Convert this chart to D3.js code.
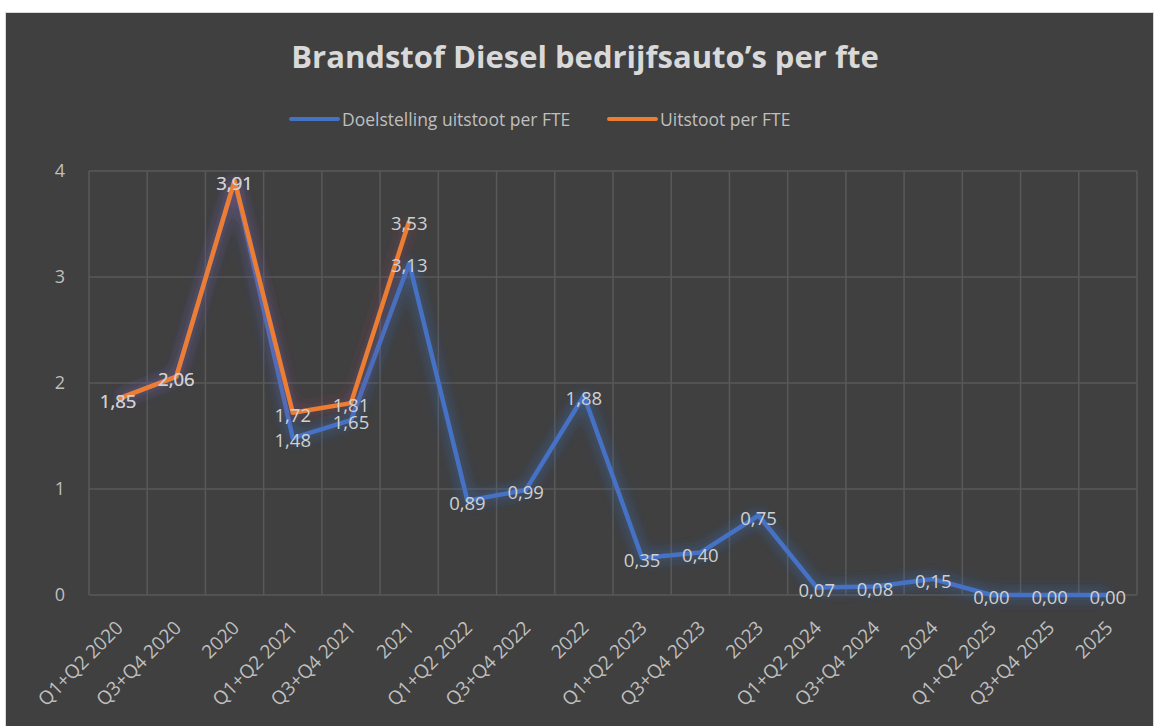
<!DOCTYPE html>
<html>
<head>
<meta charset="utf-8">
<script src="https://cdn.jsdelivr.net/npm/d3@7"></script>
<style>
  body { margin: 0; background: #fff; }
  svg text { font-family: "Open Sans", "Noto Sans", sans-serif; }
</style>
</head>
<body>
<div id="chart"></div>
<script>
// categories and values
var categories = ["Q1+Q2 2020", "Q3+Q4 2020", "2020", "Q1+Q2 2021", "Q3+Q4 2021", "2021",
  "Q1+Q2 2022", "Q3+Q4 2022", "2022", "Q1+Q2 2023", "Q3+Q4 2023", "2023",
  "Q1+Q2 2024", "Q3+Q4 2024", "2024", "Q1+Q2 2025", "Q3+Q4 2025", "2025"];
var doelstelling = [1.85, 2.06, 3.91, 1.48, 1.65, 3.13, 0.89, 0.99, 1.88, 0.35, 0.40, 0.75,
  0.07, 0.08, 0.15, 0.00, 0.00, 0.00];
var uitstoot = [1.85, 2.06, 3.91, 1.72, 1.81, 3.53];
var yTicks = [0, 1, 2, 3, 4];

var svgWidth = 1155, svgHeight = 726;
var margin = {top: 171, left: 89, right: 18, bottom: 131};
var width = svgWidth - margin.left - margin.right;
var height = svgHeight - margin.top - margin.bottom;

var svg = d3.select("#chart").append("svg")
    .attr("width", svgWidth)
    .attr("height", svgHeight);

// glow filters
var defs = svg.append("defs");
[["glowBlue", "#4472C4", 0.5], ["glowOrange", "#9a4f6a", 0.4]].forEach(function(f) {
  var flt = defs.append("filter").attr("id", f[0])
      .attr("x", "-20%").attr("y", "-20%").attr("width", "140%").attr("height", "140%");
  flt.append("feGaussianBlur").attr("in", "SourceAlpha").attr("stdDeviation", 7).attr("result", "b");
  flt.append("feFlood").attr("flood-color", f[1]).attr("flood-opacity", f[2]);
  flt.append("feComposite").attr("in2", "b").attr("operator", "in").attr("result", "g");
  var m = flt.append("feMerge");
  m.append("feMergeNode").attr("in", "g");
  m.append("feMergeNode").attr("in", "g");
  m.append("feMergeNode").attr("in", "SourceGraphic");
});

// chart background + border
svg.append("rect")
    .attr("x", 5.5).attr("y", 12.5)
    .attr("width", 1148).attr("height", 720)
    .attr("fill", "#404040")
    .attr("stroke", "#d9d9d9");

svg.append("text")
    .attr("x", 585).attr("y", 68)
    .attr("text-anchor", "middle")
    .style("font-size", "31px")
    .style("font-weight", "bold")
    .style("fill", "#d9d9d9")
    .text("Brandstof Diesel bedrijfsauto\u2019s per fte");

// legend
var legend = [{name: "Doelstelling uitstoot per FTE", color: "#4472C4", x: 291},
              {name: "Uitstoot per FTE", color: "#ED7D31", x: 609}];
legend.forEach(function(l) {
  svg.append("line")
      .attr("x1", l.x).attr("x2", l.x + 47)
      .attr("y1", 119).attr("y2", 119)
      .attr("stroke", l.color).attr("stroke-width", 4).attr("stroke-linecap", "round");
  svg.append("text")
      .attr("x", l.x + 51).attr("y", 126)
      .style("font-size", "17.5px")
      .style("fill", "#bfbfbf")
      .text(l.name);
});

var chartGroup = svg.append("g")
    .attr("transform", `translate(${margin.left}, ${margin.top})`);

var xScale = d3.scaleBand().domain(categories).range([0, width]);
var yScale = d3.scaleLinear().domain([0, 4]).range([height, 0]);

// gridlines
chartGroup.selectAll(".hgrid")
    .data(yTicks)
    .enter().append("line")
    .attr("x1", 0).attr("x2", width)
    .attr("y1", d => yScale(d)).attr("y2", d => yScale(d))
    .attr("stroke", "#595959").attr("stroke-width", 1.5);
chartGroup.selectAll(".vgrid")
    .data(categories.concat([null]))
    .enter().append("line")
    .attr("x1", (d, i) => i * xScale.bandwidth())
    .attr("x2", (d, i) => i * xScale.bandwidth())
    .attr("y1", 0).attr("y2", height)
    .attr("stroke", "#595959").attr("stroke-width", 1.5);

// y axis labels
var yAxis = d3.axisLeft(yScale).tickValues(yTicks).tickFormat(d3.format("d")).tickSize(0).tickPadding(24);
var yg = chartGroup.append("g").call(yAxis);
yg.select(".domain").remove();
yg.selectAll("text")
    .style("font-size", "18px")
    .style("fill", "#bfbfbf")
    .attr("font-family", null);

// x axis labels
var xAxis = d3.axisBottom(xScale).tickSize(0);
var xg = chartGroup.append("g").attr("transform", `translate(0, ${height})`).call(xAxis);
xg.select(".domain").remove();
xg.selectAll("text")
    .style("font-size", "19px")
    .style("fill", "#bfbfbf")
    .attr("font-family", null)
    .attr("text-anchor", "end")
    .attr("dy", null)
    .attr("y", 0)
    .attr("transform", "translate(6, 34) rotate(-45)");

var line = d3.line()
    .x((d, i) => xScale(categories[i]) + xScale.bandwidth() / 2)
    .y(d => yScale(d));

chartGroup.append("path")
    .datum(doelstelling)
    .attr("d", line)
    .attr("fill", "none")
    .attr("stroke", "#4472C4")
    .attr("stroke-width", 4.5)
    .attr("stroke-linejoin", "round")
    .attr("filter", "url(#glowBlue)");

chartGroup.append("path")
    .datum(uitstoot)
    .attr("d", line)
    .attr("fill", "none")
    .attr("stroke", "#ED7D31")
    .attr("stroke-width", 4.5)
    .attr("stroke-linejoin", "round")
    .attr("filter", "url(#glowOrange)");

function fmt(v) { return v.toFixed(2).replace(".", ","); }

[doelstelling, uitstoot].forEach(function(series) {
  chartGroup.selectAll(null)
      .data(series)
      .enter().append("text")
      .attr("x", (d, i) => xScale(categories[i]) + xScale.bandwidth() / 2)
      .attr("y", d => yScale(d) + 9)
      .attr("text-anchor", "middle")
      .style("font-size", "18.5px")
      .style("fill", "#d0d0d0")
      .text(fmt);
});
</script>
</body>
</html>
